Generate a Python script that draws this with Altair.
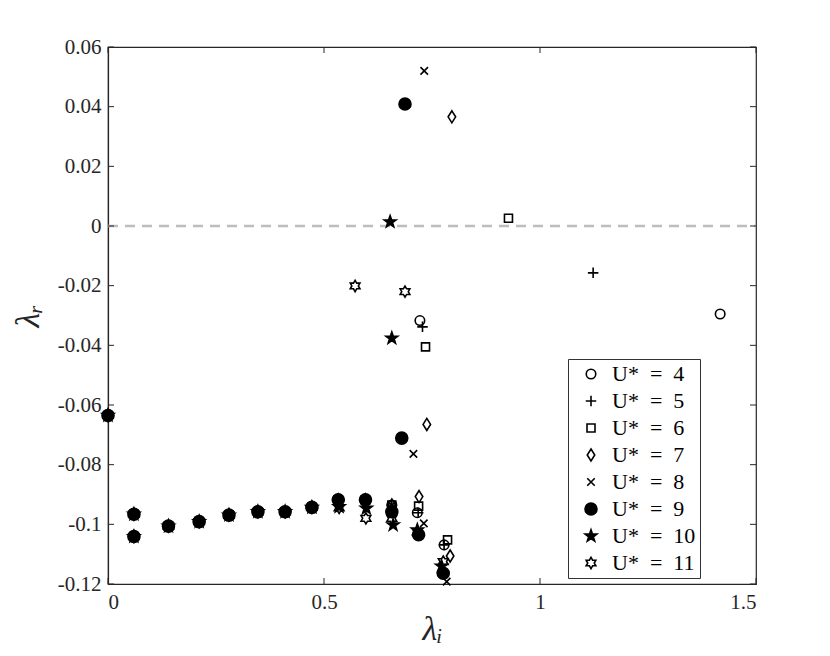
import math
import altair as alt
import pandas as pd

# ---------------- data ----------------
series_names = ["4", "5", "6", "7", "8", "9", "10", "11"]

common_x = [0.0, 0.06, 0.06, 0.14, 0.211, 0.28, 0.347, 0.41, 0.472]
common_y = [-0.0635, -0.0966, -0.1041, -0.1006, -0.0991, -0.0969, -0.0958, -0.0958, -0.0943]

u4_x = [0.533, 0.596, 0.657, 0.716, 0.778, 0.722, 1.417]
u4_y = [-0.0918, -0.0918, -0.0935, -0.0961, -0.1069, -0.0317, -0.0295]
u5_x = [0.533, 0.596, 0.657, 0.718, 0.778, 0.728, 1.123]
u5_y = [-0.0918, -0.0918, -0.0935, -0.0961, -0.1069, -0.0338, -0.0157]
u6_x = [0.533, 0.596, 0.657, 0.719, 0.786, 0.735, 0.927]
u6_y = [-0.0918, -0.0918, -0.0935, -0.0939, -0.1052, -0.0405, 0.0026]
u7_x = [0.533, 0.596, 0.657, 0.720, 0.792, 0.738, 0.796]
u7_y = [-0.0918, -0.0918, -0.0935, -0.0907, -0.1106, -0.0665, 0.0366]
u8_x = [0.533, 0.596, 0.657, 0.731, 0.784, 0.707, 0.732]
u8_y = [-0.0918, -0.0918, -0.0935, -0.0997, -0.1192, -0.0764, 0.052]
u9_x = [0.533, 0.596, 0.657, 0.719, 0.776, 0.680, 0.6875]
u9_y = [-0.0918, -0.0918, -0.0958, -0.1035, -0.1164, -0.0711, 0.0409]
u10_x = [0.535, 0.598, 0.660, 0.716, 0.772, 0.657, 0.653]
u10_y = [-0.0941, -0.0946, -0.1002, -0.1019, -0.1140, -0.0376, 0.0014]
u11_x = [0.535, 0.597, 0.657, 0.716, 0.776, 0.6875, 0.572]
u11_y = [-0.0945, -0.0980, -0.0980, -0.1025, -0.1125, -0.0220, -0.0201]

x_ticks = [0, 0.5, 1, 1.5]
y_ticks = [-0.12, -0.1, -0.08, -0.06, -0.04, -0.02, 0, 0.02, 0.04, 0.06]
zero_level = [0]

extra = {
    "4": (u4_x, u4_y), "5": (u5_x, u5_y), "6": (u6_x, u6_y), "7": (u7_x, u7_y),
    "8": (u8_x, u8_y), "9": (u9_x, u9_y), "10": (u10_x, u10_y), "11": (u11_x, u11_y),
}

rows = []
for name in series_names:
    xs = common_x + extra[name][0]
    ys = common_y + extra[name][1]
    for xv, yv in zip(xs, ys):
        rows.append({"U": name, "li": xv, "lr": yv})
df = pd.DataFrame(rows)

# ---------------- marker shapes (unit = 5 px at size 100) ----------------
def star_path(n, r_out, r_in):
    pts = []
    for k in range(2 * n):
        ang = -math.pi / 2 + k * math.pi / n
        r = r_out if k % 2 == 0 else r_in
        pts.append(f"{r*math.cos(ang):.3f},{r*math.sin(ang):.3f}")
    return "M" + "L".join(pts) + "Z"

def circle_path(r):
    return f"M{r},0A{r},{r},0,1,1,{-r},0A{r},{r},0,1,1,{r},0Z"

def square_path(h):
    return f"M{-h},{-h}L{h},{-h}L{h},{h}L{-h},{h}Z"

shape_range = [
    circle_path(0.95),
    "M-1.05,0L1.05,0M0,-1.05L0,1.05",
    square_path(0.8),
    "M0,-1.2L0.75,0L0,1.2L-0.75,0Z",
    "M-0.75,-0.75L0.75,0.75M-0.75,0.75L0.75,-0.75",
    circle_path(1.2),
    star_path(5, 1.25, 0.5),
    star_path(6, 1.12, 0.65),
]
fill_range = ["transparent", "transparent", "transparent", "transparent", "transparent",
              "black", "black", "transparent"]
stroke_range = ["black"] * 8

W, H = 648, 537
xscale = alt.Scale(domain=[0, 1.5], nice=False, zero=False)
yscale = alt.Scale(domain=[-0.12, 0.06], nice=False, zero=False)

font = "Liberation Serif"

legend = alt.Legend(
    title=None, orient="none", legendX=460, legendY=312,
    labelExpr="'U*\u2002=\u2002' + datum.label",
    labelFont=font, labelFontSize=22, labelColor="black", labelLimit=300,
    padding=4, rowPadding=5, strokeColor="#333333", fillColor="white",
    symbolSize=100, labelOffset=10, symbolOffset=8,
    symbolStrokeColor="black", symbolStrokeWidth=1.6, symbolOpacity=1,
)

axis_common = dict(ticks=False, grid=False, labelExpr="toString(datum.value)",
                   labelFont=font, labelFontSize=21, labelColor="#262626",
                   titleFont=font, titleFontSize=34, titleFontWeight="normal",
                   titleColor="#262626", titleFontStyle="italic",
                   domainColor="#262626", domainWidth=1.2, labelPadding=7)

points = alt.Chart(df).mark_point(strokeWidth=1.6, opacity=1, size=100).encode(
    x=alt.X("li:Q", scale=xscale,
            axis=alt.Axis(values=x_ticks, title="λᵢ", titlePadding=0, **axis_common)),
    y=alt.Y("lr:Q", scale=yscale,
            axis=alt.Axis(values=y_ticks, title="λᵣ", titlePadding=12, **axis_common)),
    shape=alt.Shape("U:N", scale=alt.Scale(domain=series_names, range=shape_range), legend=legend),
    fill=alt.Fill("U:N", scale=alt.Scale(domain=series_names, range=fill_range), legend=legend),
    stroke=alt.Stroke("U:N", scale=alt.Scale(domain=series_names, range=stroke_range), legend=legend),
)

zero_df = pd.DataFrame({"y": zero_level, "x1": [0], "x2": [1.5]})
zero_line = alt.Chart(zero_df).mark_rule(color="#bdbdbd", strokeWidth=2.6, strokeDash=[10, 7]).encode(
    y=alt.Y("y:Q", scale=yscale), x=alt.X("x1:Q", scale=xscale), x2="x2:Q"
)

xt = pd.DataFrame({"v": x_ticks})
yt = pd.DataFrame({"v": y_ticks})
tl = 6
tick_style = dict(color="#262626", strokeWidth=1)
xb = alt.Chart(xt).mark_rule(**tick_style).encode(x=alt.X("v:Q", scale=xscale), y=alt.value(H), y2=alt.value(H - tl))
xtop = alt.Chart(xt).mark_rule(**tick_style).encode(x=alt.X("v:Q", scale=xscale), y=alt.value(0), y2=alt.value(tl))
yl = alt.Chart(yt).mark_rule(**tick_style).encode(y=alt.Y("v:Q", scale=yscale), x=alt.value(0), x2=alt.value(tl))
yr = alt.Chart(yt).mark_rule(**tick_style).encode(y=alt.Y("v:Q", scale=yscale), x=alt.value(W), x2=alt.value(W - tl))

chart = alt.layer(zero_line, xb, xtop, yl, yr, points).properties(
    width=W, height=H,
    autosize=alt.AutoSizeParams(type="none"),
    padding={"left": 100, "top": 39, "right": 60, "bottom": 70},
).configure_view(
    stroke="#262626", strokeWidth=1.2
)

chart.save("out.html", embed_options={"renderer": "svg", "actions": False})
